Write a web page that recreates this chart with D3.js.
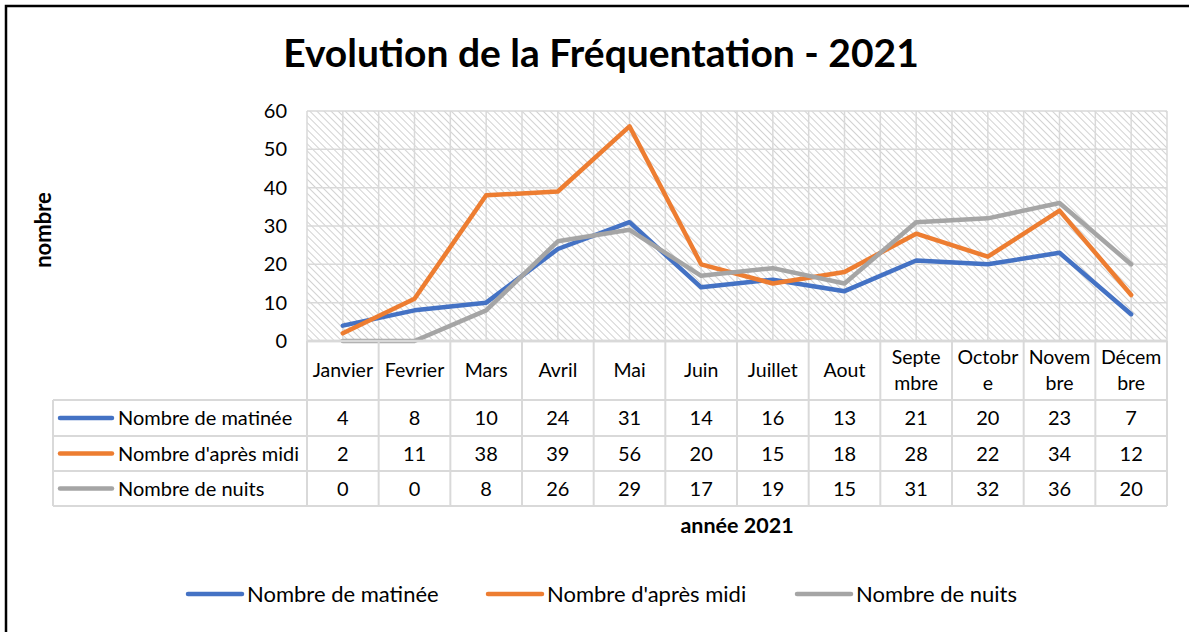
<!DOCTYPE html>
<html>
<head>
<meta charset="utf-8">
<script src="https://cdn.jsdelivr.net/npm/d3@7"></script>
<style>
  body { margin: 0; background: #fff; }
  svg text { font-family: Lato, "Open Sans", sans-serif; fill: #000; }
</style>
</head>
<body>
<svg id="chart" width="1189" height="632"></svg>
<script>
// data
var months = ['Janvier', 'Fevrier', 'Mars', 'Avril', 'Mai', 'Juin', 'Juillet', 'Aout',
              'Septembre', 'Octobre', 'Novembre', 'Décembre'];
// header labels as wrapped in the data table
var monthLabels = [['Janvier'], ['Fevrier'], ['Mars'], ['Avril'], ['Mai'], ['Juin'], ['Juillet'], ['Aout'],
                   ['Septe', 'mbre'], ['Octobr', 'e'], ['Novem', 'bre'], ['Décem', 'bre']];
var seriesNames = ['Nombre de matinée', "Nombre d'après midi", 'Nombre de nuits'];
var matinee = [4, 8, 10, 24, 31, 14, 16, 13, 21, 20, 23, 7];
var apresMidi = [2, 11, 38, 39, 56, 20, 15, 18, 28, 22, 34, 12];
var nuits = [0, 0, 8, 26, 29, 17, 19, 15, 31, 32, 36, 20];
var yTicks = [0, 10, 20, 30, 40, 50, 60];
var colors = ['#4472C4', '#ED7D31', '#A5A5A5'];

var allSeries = [matinee, apresMidi, nuits];

var svg = d3.select('#chart');

// outer frame (right and bottom edges fall outside the picture)
svg.append('rect')
    .attr('x', 6).attr('y', 6)
    .attr('width', 1240).attr('height', 700)
    .attr('fill', 'none')
    .attr('stroke', '#000')
    .attr('stroke-width', 2.5);

var plotLeft = 307, plotRight = 1167, plotTop = 111, plotBottom = 341;

var x = d3.scaleBand().domain(months).range([plotLeft, plotRight]).padding(0);
var y = d3.scaleLinear().domain([0, 60]).range([plotBottom, plotTop]);
var half = x.bandwidth() / 2;

// hatch pattern for plot area
var defs = svg.append('defs');
defs.append('pattern')
    .attr('id', 'hatch')
    .attr('patternUnits', 'userSpaceOnUse')
    .attr('width', 5).attr('height', 5)
    .attr('patternTransform', 'rotate(-45)')
  .append('line')
    .attr('x1', 0).attr('y1', 0)
    .attr('x2', 0).attr('y2', 5)
    .attr('stroke', '#cdcdcd')
    .attr('stroke-width', 1.8);

svg.append('rect')
    .attr('x', plotLeft).attr('y', plotTop)
    .attr('width', plotRight - plotLeft)
    .attr('height', plotBottom - plotTop)
    .attr('fill', 'url(#hatch)');

// gridlines
var grid = svg.append('g').attr('class', 'grid');
grid.selectAll('line.h')
    .data(yTicks)
    .enter()
    .append('line')
    .attr('x1', plotLeft).attr('x2', plotRight)
    .attr('y1', function(d) { return y(d); })
    .attr('y2', function(d) { return y(d); })
    .attr('stroke', '#d9d9d9')
    .attr('stroke-width', function(d) { return d === 0 ? 2.5 : 1.5; });

var vpos = [];
months.forEach(function(m) { vpos.push(x(m)); vpos.push(x(m) + half); });
vpos.push(plotRight);
grid.selectAll('line.v')
    .data(vpos)
    .enter()
    .append('line')
    .attr('x1', function(d) { return d; })
    .attr('x2', function(d) { return d; })
    .attr('y1', plotTop).attr('y2', plotBottom)
    .attr('stroke', '#d9d9d9')
    .attr('stroke-width', 1.5);

// y axis labels
var yAxis = svg.append('g')
    .attr('transform', 'translate(287,0)')
    .call(d3.axisLeft(y).tickValues(yTicks).tickSize(0).tickPadding(0));
yAxis.select('.domain').remove();
yAxis.selectAll('text')
    .style('font-family', 'Lato, sans-serif')
    .style('font-size', '20px')
    .attr('fill', '#000');

// lines
var line = d3.line()
    .x(function(d, i) { return x(months[i]) + half; })
    .y(function(d) { return y(d); });

svg.append('g').selectAll('path')
    .data(allSeries)
    .enter()
    .append('path')
    .attr('d', line)
    .attr('fill', 'none')
    .attr('stroke', function(d, i) { return colors[i]; })
    .attr('stroke-width', 4.5)
    .attr('stroke-linejoin', 'round')
    .attr('stroke-linecap', 'round');

// data table
var rowTops = [341, 400, 436, 471, 506];
var tableLeft = 53;
var border = '#d9d9d9';
var table = svg.append('g').attr('class', 'table');

// horizontal lines
table.append('line')
    .attr('x1', plotLeft).attr('x2', plotRight)
    .attr('y1', rowTops[0]).attr('y2', rowTops[0])
    .attr('stroke', border).attr('stroke-width', 2.5);
table.selectAll('line.rh')
    .data(rowTops.slice(1))
    .enter()
    .append('line')
    .attr('x1', tableLeft).attr('x2', plotRight)
    .attr('y1', function(d) { return d; })
    .attr('y2', function(d) { return d; })
    .attr('stroke', border).attr('stroke-width', 2);
// vertical lines
var colEdges = months.map(function(m) { return x(m); }).concat([plotRight]);
table.selectAll('line.cv')
    .data(colEdges)
    .enter()
    .append('line')
    .attr('x1', function(d) { return d; })
    .attr('x2', function(d) { return d; })
    .attr('y1', rowTops[0]).attr('y2', rowTops[4])
    .attr('stroke', border).attr('stroke-width', 2);
table.append('line')
    .attr('x1', tableLeft).attr('x2', tableLeft)
    .attr('y1', rowTops[1]).attr('y2', rowTops[4])
    .attr('stroke', border).attr('stroke-width', 2);

// header month labels
var headMid = (rowTops[0] + rowTops[1]) / 2;
months.forEach(function(m, i) {
  var lines = monthLabels[i];
  var t = table.append('text')
      .attr('text-anchor', 'middle')
      .style('font-size', '19.5px');
  lines.forEach(function(l, k) {
    t.append('tspan')
      .attr('x', x(m) + half)
      .attr('y', headMid + (k - (lines.length - 1) / 2) * 26)
      .attr('dy', '0.35em')
      .text(l);
  });
});

// series rows
allSeries.forEach(function(vals, r) {
  var mid = (rowTops[r + 1] + rowTops[r + 2]) / 2;
  table.append('line')
      .attr('x1', 60).attr('x2', 112)
      .attr('y1', mid).attr('y2', mid)
      .attr('stroke', colors[r])
      .attr('stroke-width', 4.5)
      .attr('stroke-linecap', 'round');
  table.append('text')
      .attr('x', 118).attr('y', mid)
      .attr('dy', '0.35em')
      .style('font-size', '20px')
      .text(seriesNames[r]);
  table.selectAll('text.v' + r)
      .data(vals)
      .enter()
      .append('text')
      .attr('x', function(d, i) { return x(months[i]) + half; })
      .attr('y', mid)
      .attr('dy', '0.35em')
      .attr('text-anchor', 'middle')
      .style('font-size', '20px')
      .text(function(d) { return d; });
});

// titles
svg.append('text')
    .attr('x', 601).attr('y', 67)
    .attr('text-anchor', 'middle')
    .style('font-size', '39px')
    .style('font-weight', 'bold')
    .text('Evolution de la Fréquentation - 2021');

svg.append('text')
    .attr('transform', 'translate(51,230) rotate(-90)')
    .attr('text-anchor', 'middle')
    .style('font-size', '22px')
    .style('font-weight', 'bold')
    .text('nombre');

svg.append('text')
    .attr('x', 737).attr('y', 533)
    .attr('text-anchor', 'middle')
    .style('font-size', '21.5px')
    .style('font-weight', 'bold')
    .text('année 2021');

// legend
var legendX = [188, 488, 797];
var legend = svg.append('g').selectAll('g')
    .data(seriesNames)
    .enter()
    .append('g')
    .attr('transform', function(d, i) { return 'translate(' + legendX[i] + ',594)'; });
legend.append('line')
    .attr('x1', 0).attr('x2', 54)
    .attr('stroke', function(d, i) { return colors[i]; })
    .attr('stroke-width', 4.5)
    .attr('stroke-linecap', 'round');
legend.append('text')
    .attr('x', 59)
    .attr('dy', '0.35em')
    .style('font-size', '22px')
    .text(function(d) { return d; });
</script>
</body>
</html>
